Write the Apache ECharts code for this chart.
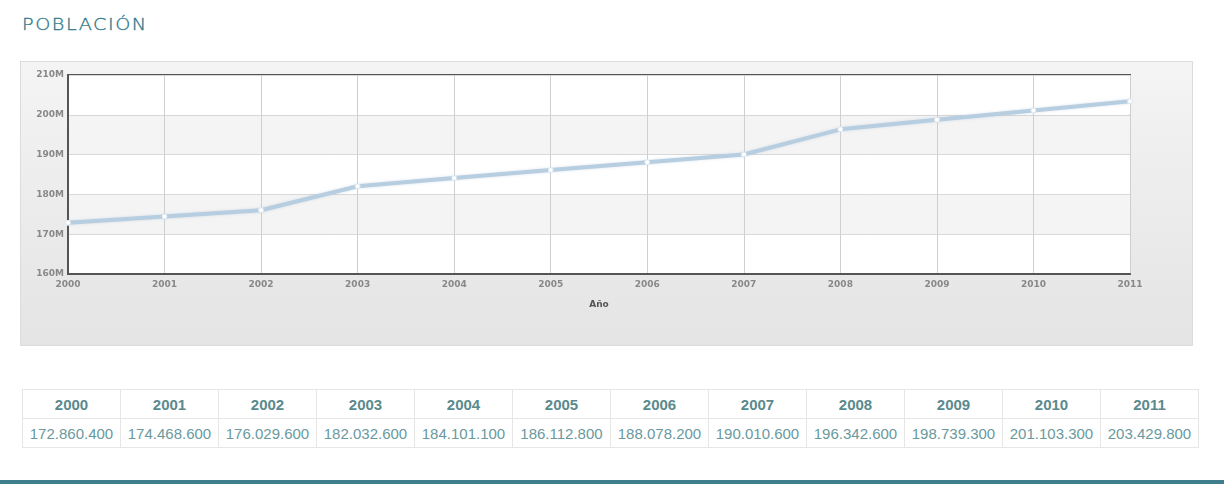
<!DOCTYPE html>
<html>
<head>
<meta charset="utf-8">
<script src="https://cdn.jsdelivr.net/npm/echarts@6/dist/echarts.min.js"></script>
<style>
  html, body { margin: 0; padding: 0; background: #fff; width: 1224px; height: 484px; overflow: hidden; }
  #title { position: absolute; left: 22px; top: 15px; font-family: "DejaVu Sans", sans-serif; font-weight: 200; font-size: 16px; letter-spacing: 1.3px; color: #2f7888; transform: scaleX(1.2); transform-origin: left; white-space: nowrap; -webkit-text-stroke: 0.3px #2f7888; }
  #panel { position: absolute; left: 20px; top: 61px; width: 1171px; height: 283px; border: 1px solid #dcdcdc; background: linear-gradient(#f4f4f4, #e4e4e4); }
  #chart { position: absolute; left: 0; top: 0; width: 1171px; height: 283px; }
  table { position: absolute; left: 22px; top: 389px; border-collapse: collapse; font-family: "Liberation Sans", Arial, sans-serif; font-size: 15px; }
  td, th { border: 1px solid #e6e6e6; width: 97px; text-align: center; padding: 0; }
  th { height: 28px; color: #5a8a8e; font-weight: bold; }
  td { height: 28px; color: #6a999e; }
  #bar { position: absolute; left: 0; top: 480px; width: 1224px; height: 4px; background: #3f7f8c; }
</style>
</head>
<body>
<div id="title">POBLACIÓN</div>
<div id="panel"><div id="chart"></div></div>
<table id="tbl"><tr id="hdr"></tr><tr id="vals"></tr></table>
<div id="bar"></div>
<script>
const years = ['2000','2001','2002','2003','2004','2005','2006','2007','2008','2009','2010','2011'];
const population = [172860400, 174468600, 176029600, 182032600, 184101100, 186112800, 188078200, 190010600, 196342600, 198739300, 201103300, 203429800];
const populationLabels = ['172.860.400','174.468.600','176.029.600','182.032.600','184.101.100','186.112.800','188.078.200','190.010.600','196.342.600','198.739.300','201.103.300','203.429.800'];
const yMin = 160000000, yMax = 210000000, yStep = 10000000;

const hdr = document.getElementById('hdr');
const vals = document.getElementById('vals');
years.forEach((y, i) => {
  const th = document.createElement('th'); th.textContent = y; hdr.appendChild(th);
  const td = document.createElement('td'); td.textContent = populationLabels[i]; vals.appendChild(td);
});

const chart = echarts.init(document.getElementById('chart'));
chart.setOption({
  animation: false,
  grid: { left: 47, top: 13, right: 62, bottom: 71, show: true, borderColor: '#555', borderWidth: 2, backgroundColor: 'transparent' },
  xAxis: {
    type: 'category', data: years, boundaryGap: false,
    name: 'Año', nameLocation: 'middle', nameGap: 26,
    nameTextStyle: { fontFamily: 'DejaVu Sans', fontSize: 9, fontWeight: 'bold', color: '#555' },
    axisLine: { lineStyle: { color: '#555', width: 2 } },
    axisTick: { show: false },
    axisLabel: { fontFamily: 'DejaVu Sans', fontSize: 9, fontWeight: 'bold', color: '#888', margin: 6 },
    splitLine: { show: true, lineStyle: { color: '#cfcfcf', width: 1 } }
  },
  yAxis: {
    type: 'value', min: yMin, max: yMax, interval: yStep,
    axisLine: { show: true, lineStyle: { color: '#555', width: 2 } },
    axisTick: { show: false },
    axisLabel: { fontFamily: 'DejaVu Sans', fontSize: 9, fontWeight: 'bold', color: '#888', margin: 4, formatter: v => (v / 1000000) + 'M' },
    splitLine: { show: true, lineStyle: { color: '#d8d8d8', width: 1 } },
    splitArea: { show: true, areaStyle: { color: ['#ffffff', '#f4f4f4'] } }
  },
  series: [{
    type: 'line', data: population,
    symbol: 'circle', symbolSize: 5,
    itemStyle: { color: '#ffffff', borderColor: '#dbe6f0', borderWidth: 1 },
    lineStyle: { color: '#b7cde0', width: 4, shadowColor: 'rgba(150,180,210,0.35)', shadowBlur: 3 },
    z: 3
  }]
});
</script>
</body>
</html>
